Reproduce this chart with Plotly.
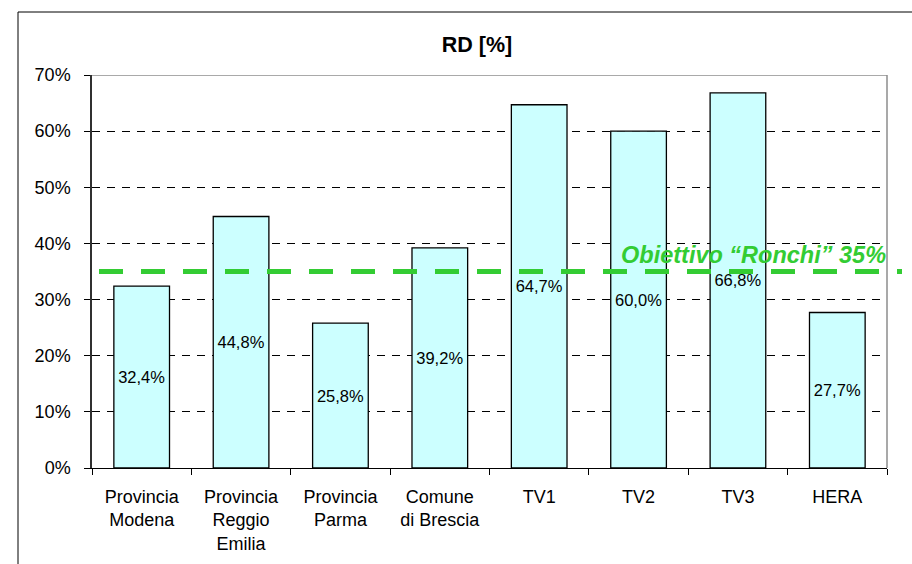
import plotly.graph_objects as go

categories = ["Provincia<br>Modena", "Provincia<br>Reggio<br>Emilia", "Provincia<br>Parma",
              "Comune<br>di Brescia", "TV1", "TV2", "TV3", "HERA"]
values = [32.4, 44.8, 25.8, 39.2, 64.7, 60.0, 66.8, 27.7]
target_value = 35
target_label = "Obiettivo “Ronchi” 35%"
title_text = "RD [%]"
y_ticks = [0, 10, 20, 30, 40, 50, 60, 70]

FONT = "Liberation Sans, Arial, sans-serif"

fig = go.Figure()
fig.add_trace(go.Bar(
    x=categories, y=values,
    marker=dict(color="#CCFFFF", line=dict(color="black", width=1.3)),
    texttemplate="%{y:.1f}%", textposition="inside", insidetextanchor="middle",
    textfont=dict(family=FONT, size=16.5, color="black"),
    constraintext="none",
    hoverinfo="skip",
))

fig.update_layout(
    width=912, height=564,
    margin=dict(l=92, r=25, t=75, b=96, autoexpand=False),
    paper_bgcolor="white", plot_bgcolor="white",
    separators=",.",
    bargap=0.44,
    showlegend=False,
    font=dict(family=FONT, color="black"),
    title=dict(text="<b>" + title_text + "</b>", x=0.523, xanchor="center",
               y=1 - 44 / 564, yanchor="middle",
               font=dict(family=FONT, size=21.5, color="black")),
)

fig.update_xaxes(
    showline=True, linecolor="black", linewidth=1.3,
    ticks="outside", tickson="boundaries", ticklen=6, tickcolor="black", tickwidth=1,
    tickfont=dict(family=FONT, size=18, color="black"),
    showgrid=False, ticklabelstandoff=12, automargin=False,
)
fig.update_yaxes(
    range=[0, 70], tickvals=y_ticks, ticktext=[f"{v}%" for v in y_ticks],
    showline=True, linecolor="#303030", linewidth=1.5,
    ticks="outside", ticklen=6, tickcolor="black", tickwidth=1,
    tickfont=dict(family=FONT, size=18, color="black"),
    showgrid=True, gridcolor="black", gridwidth=1, griddash="8px,7px",
    zeroline=False, ticklabelstandoff=10, automargin=False,
)

# plot-area border (top and right), gray
fig.add_shape(type="line", xref="paper", yref="y", x0=0, x1=1, y0=70, y1=70,
              line=dict(color="#8c8c8c", width=1.5), layer="above")
fig.add_shape(type="line", xref="paper", yref="y", x0=1, x1=1, y0=0, y1=70,
              line=dict(color="#8c8c8c", width=1.5), layer="above")

# outer chart border
fig.add_shape(type="rect", xref="paper", yref="paper",
              x0=(18 - 92) / 795, x1=1.06, y0=-0.3, y1=(468 - 12) / 393,
              line=dict(color="black", width=1), fillcolor="rgba(0,0,0,0)", layer="above")

# target line
fig.add_shape(type="line", xref="paper", yref="y",
              x0=(99 - 92) / 795, x1=(902 - 92) / 795, y0=target_value, y1=target_value,
              line=dict(color="#33CC33", width=5, dash="24px,18px"), layer="above")
fig.add_annotation(text="<b><i>" + target_label + "</i></b>", xref="paper", yref="y",
                   x=(753.5 - 92) / 795, y=target_value + 3.0, xanchor="center", yanchor="middle",
                   showarrow=False, font=dict(family=FONT, size=23.5, color="#33CC33"))

fig.write_html("out.html", config={"displayModeBar": False})

# remove default page margin so the figure sits at the window origin
with open("out.html", "r", encoding="utf-8") as f:
    html = f.read()
html = html.replace("<body>", '<body style="margin:0;padding:0;overflow:hidden">', 1)
with open("out.html", "w", encoding="utf-8") as f:
    f.write(html)
